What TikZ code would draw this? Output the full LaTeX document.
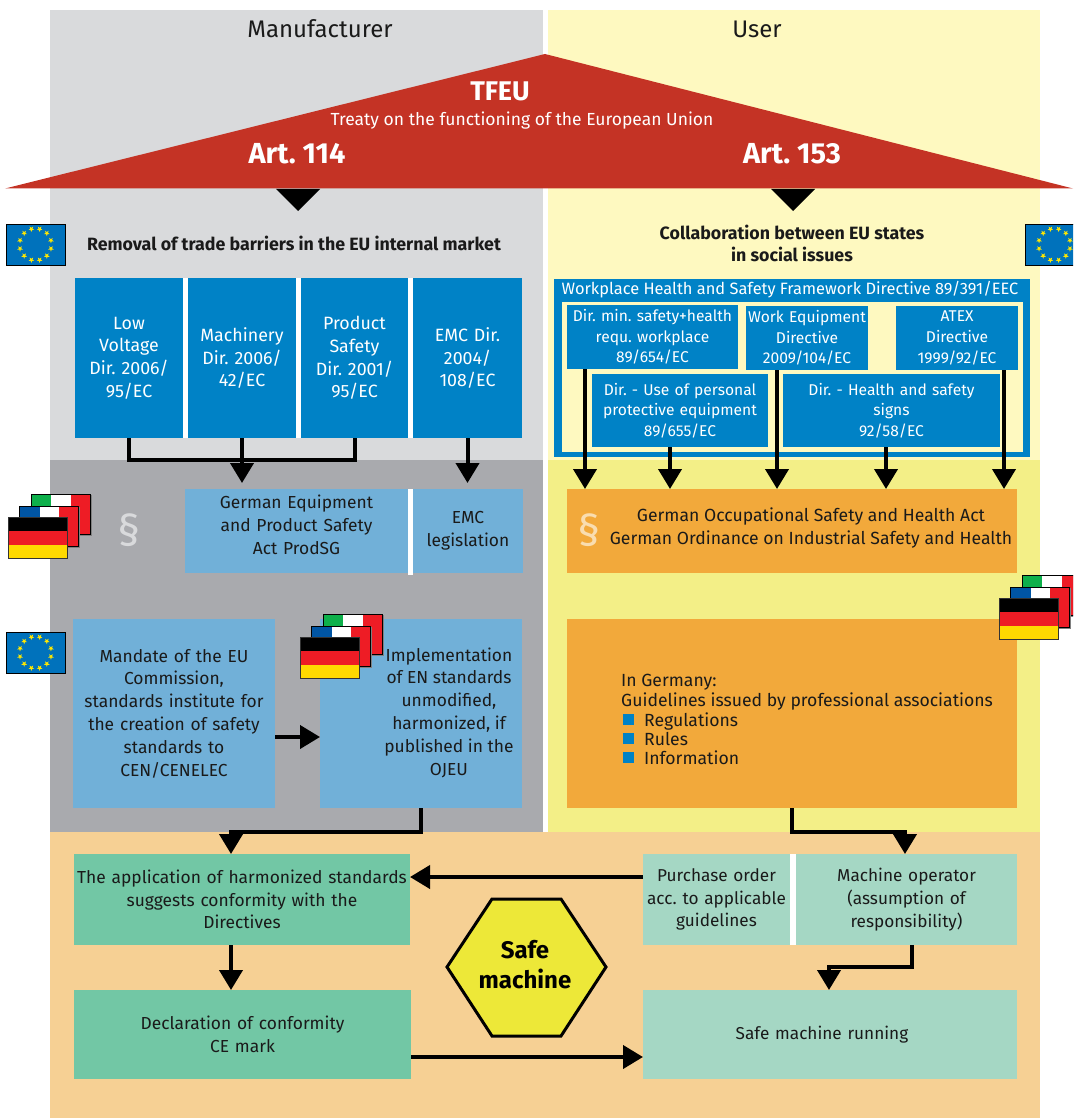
\documentclass[tikz,border=0pt]{standalone}
\usepackage{fontspec}
\setmainfont{Fira Sans}
\usetikzlibrary{arrows.meta,calc}
\definecolor{gl}{HTML}{D9DADC}\definecolor{gd}{HTML}{A9AAAE}
\definecolor{yl}{HTML}{FEF9C0}\definecolor{yd}{HTML}{F3EF87}
\definecolor{ob}{HTML}{F6D094}\definecolor{bl}{HTML}{0082C6}
\definecolor{lb}{HTML}{71B0D8}\definecolor{og}{HTML}{F2A93B}
\definecolor{rd}{HTML}{C43325}\definecolor{tl}{HTML}{72C7A5}
\definecolor{lt}{HTML}{A5D7C4}\definecolor{hx}{HTML}{EDE838}
\definecolor{tx}{HTML}{1A1A1A}\definecolor{fr}{HTML}{EE1C25}
\definecolor{fb}{HTML}{0055A4}\definecolor{fg}{HTML}{0DB04B}
\definecolor{fy}{HTML}{FFD900}\definecolor{eu}{HTML}{0072BC}
\definecolor{pl}{HTML}{F9DDB0}
\tikzset{
 x=1pt,y=-1pt,
 boxs/.style={inner sep=0pt,outer sep=0pt,align=center,text=tx,font=\fontsize{17.4}{22.8}\selectfont},
 bluebox/.style={boxs,fill=bl,text=white,font=\fontsize{17.8}{22.8}\selectfont},
 subbox/.style={boxs,fill=bl,text=white,font=\fontsize{15.6}{20.6}\selectfont},
 skybox/.style={boxs,fill=lb},
 orbox/.style={boxs,fill=og},
 tealbox/.style={boxs,fill=tl},
 mintbox/.style={boxs,fill=lt,font=\fontsize{17.2}{22.8}\selectfont},
 lbl/.style={inner sep=0pt,align=center,text=tx},
 wline/.style={line width=4pt,draw=black},
 arr/.style={line width=4pt,draw=black,-{Triangle[length=20pt,width=23pt]}},
 arrb/.style={arr,shorten >=6pt},
}
\newcommand{\bx}[7]{\node[#6,minimum width={(#4)-(#2)},minimum height={(#5)-(#3)},text width={(#4)-(#2)-2}] (#1) at ({((#2)+(#4))/2},{((#3)+(#5))/2}) {#7};}
% German / French / Italian flag group, #1,#2 = top left of the German flag
\newcommand{\flags}[2]{\begin{scope}[shift={(#1,#2)}]
 \fill[gray] (24,-22) rectangle ++(60,41);
 \fill[fg] (23,-23) rectangle ++(20,40);\fill[white] (43,-23) rectangle ++(20,40);\fill[fr] (63,-23) rectangle ++(19,40);
 \draw[black,line width=.8pt] (23,-23) rectangle ++(59,40);
 \fill[gray] (12,-10) rectangle ++(60,41);
 \fill[fb] (11.5,-11) rectangle ++(20,40);\fill[white] (31.5,-11) rectangle ++(19,40);\fill[fr] (50.5,-11) rectangle ++(20,40);
 \draw[black,line width=.8pt] (11.5,-11) rectangle ++(59,40);
 \fill[black] (0,0) rectangle ++(59,14);\fill[fr] (0,14) rectangle ++(59,14);\fill[fy] (0,28) rectangle ++(59,13);
 \draw[black!80,line width=.8pt] (0,0) rectangle ++(59,41);
\end{scope}}
\newcommand{\euflag}[2]{\begin{scope}[shift={(#1,#2)}]
 \fill[eu] (0,0) rectangle ++(59,41);
 \foreach \a in {15,45,...,345}{
  \fill[yellow!90!orange,shift={(29.5+16*cos \a,20.5+16*sin \a)}] (90:3) -- (126:1.2) -- (162:3) -- (198:1.2) -- (234:3) -- (270:1.2) -- (306:3) -- (342:1.2) -- (18:3) -- (54:1.2) -- cycle;}
 \draw[black,line width=1pt] (0,0) rectangle ++(59,41);
\end{scope}}
\begin{document}
\begin{tikzpicture}
\frenchspacing
\useasboundingbox (0,0) rectangle (1073,1118);
\clip (0,0) rectangle (1073,1118);
% panels
\fill[gl] (50,10) rectangle (543,460);
\fill[gd] (50,460) rectangle (543,832);
\fill[yl] (548,10) rectangle (1040,460);
\fill[yd] (548,460) rectangle (1040,832);
\fill[ob] (50,832) rectangle (1040,1118);
% roof
\fill[rd] (5,188.5) -- (545,54) -- (1073,188.5) -- cycle;
\fill[black] (276,189) -- (320,189) -- (298,211) -- cycle;
\fill[black] (771,189) -- (815,189) -- (793,211) -- cycle;
\node[lbl,font=\fontsize{24}{28}\selectfont] (man) at (320,29) {Manufacturer};
\node[lbl,font=\fontsize{24}{28}\selectfont] (usr) at (757,29) {User};
\node[lbl,text=white,font=\fontsize{27}{30}\selectfont\bfseries] (tfeu) at (500,91) {TFEU};
\node[lbl,text=white,font=\fontsize{17.5}{20}\selectfont] (treaty) at (522,121) {Treaty on the functioning of the European Union};
\node[lbl,text=white,font=\fontsize{29}{32}\selectfont\bfseries] (a114) at (297,154) {Art. 114};
\node[lbl,text=white,font=\fontsize{29}{32}\selectfont\bfseries] (a153) at (792,154) {Art. 153};
\node[lbl,font=\fontsize{17.8}{22}\selectfont\bfseries] (removal) at (294,243) {Removal of trade barriers in the EU internal market};
\node[lbl,font=\fontsize{17.8}{22}\selectfont\bfseries] (collab) at (792,243) {Collaboration between EU states\\in social issues};
% directive boxes
\fill[white] (75,278) rectangle (522,438);
\bx{lv}{75}{278}{183}{438}{bluebox}{Low\\Voltage\\Dir. 2006/\\95/EC}
\bx{mach}{188}{278}{296}{438}{bluebox}{Machinery\\Dir. 2006/\\42/EC}
\bx{prod}{301}{278}{408}{438}{bluebox}{Product\\Safety\\Dir. 2001/\\95/EC}
\bx{emc}{413}{278}{522}{438}{bluebox}{EMC Dir.\\2004/\\108/EC}
% framework
\fill[bl] (554,279) rectangle (1030,457);
\fill[yl] (562,302) rectangle (1023,452);
\node[lbl,text=white,font=\fontsize{16.4}{20}\selectfont] (frame) at (790,290) {Workplace Health and Safety Framework Directive 89/391/EEC};
\bx{da}{567}{305}{738}{369}{subbox}{Dir. min. safety+health\\requ. workplace\\89/654/EC}
\bx{db}{746}{306}{868}{370}{subbox}{Work Equipment\\Directive\\2009/104/EC}
\bx{dc}{896}{306}{1018}{370}{subbox}{ATEX\\Directive\\1999/92/EC}
\bx{dd}{592}{374}{768}{447}{subbox}{Dir. - Use of personal\\protective equipment\\89/655/EC}
\bx{de}{783}{374}{1000}{447}{subbox}{Dir. - Health and safety\\signs\\92/58/EC}
% law row
\fill[white] (408,489) rectangle (413,575);
\bx{gps}{185}{489}{408}{573}{skybox}{German Equipment\\and Product Safety\\Act ProdSG\\[-10pt]\mbox{}}
\bx{emcl}{413}{489}{523}{573}{skybox}{EMC\\legislation}
\node[lbl,text=gl,font=\fontsize{44}{44}\selectfont] (parl) at (129,530) {§};
\bx{act}{567}{489}{1017}{573}{orbox}{}
\node[lbl,text=pl,font=\fontsize{44}{44}\selectfont] (parr) at (589,530) {§};
\node[lbl,font=\fontsize{17.6}{23}\selectfont] (acttxt) at (811,528) {German Occupational Safety and Health Act\\German Ordinance on Industrial Safety and Health};
% standards row
\bx{mand}{73}{619}{275}{808}{skybox}{Mandate of the EU\\Commission,\\standards institute for\\the creation of safety\\standards to\\CEN/CENELEC}
\bx{impl}{320}{619}{522}{808}{skybox}{}
\node[lbl,font=\fontsize{17.4}{22.8}\selectfont] (impltx) at (449,712.5) {Implementation\\of EN standards\\unmodified,\\harmonized, if\\published in the\\OJEU};
\bx{guide}{567}{619}{1017}{808}{orbox}{}
\node[lbl,align=left,anchor=north west,font=\fontsize{17.6}{19.8}\selectfont] (gtx1) at (621,674) {In Germany:\\Guidelines issued by professional associations};
\node[lbl,align=left,anchor=north west,font=\fontsize{17.6}{19}\selectfont] (gtx2) at (644,713) {Regulations\\Rules\\Information};
\fill[bl] (623,714) rectangle ++(11,11);
\fill[bl] (623,733) rectangle ++(11,11);
\fill[bl] (623,752) rectangle ++(11,11);
% bottom
\bx{app}{74}{854}{410}{945}{tealbox}{The application of harmonized standards\\suggests conformity with the\\Directives}
\bx{decl}{74}{990}{411}{1079}{tealbox}{Declaration of conformity\\CE mark}
\fill[white] (643,854) rectangle (1017,945);
\bx{buy}{643}{854}{790}{945}{mintbox}{Purchase order\\acc. to applicable\\guidelines}
\bx{oper}{796}{854}{1017}{945}{mintbox}{Machine operator\\(assumption of\\responsibility)}
\bx{run}{643}{990}{1017}{1079}{mintbox}{Safe machine running\hspace*{16pt}}
\draw[black,line width=3pt,fill=hx,line join=miter] (447,967) -- (492,899) -- (561,899) -- (606,967) -- (561,1036) -- (492,1036) -- cycle;
\node[lbl,text=black,font=\fontsize{24}{30}\selectfont\bfseries] (safe) at (525,965) {Safe\\machine};
% connectors
\draw[wline] (lv.south) -- ++(0,22) -| (prod.south);
\draw[arrb] (mach.south) -- (mach.south |- gps.north);
\draw[arrb] (emc.south) -- (emc.south |- emcl.north);
\coordinate (xa) at (585,0);\coordinate (xd) at (670,0);\coordinate (xb) at (777,0);\coordinate (xe) at (886,0);\coordinate (xc) at (1004,0);
\draw[arr] (xa |- da.south) -- (xa |- act.north);
\draw[arr] (xd |- dd.south) -- (xd |- act.north);
\draw[arr] (xb |- db.south) -- (xb |- act.north);
\draw[arr] (xe |- de.south) -- (xe |- act.north);
\draw[arr] (xc |- dc.south) -- (xc |- act.north);
\coordinate (ma) at (0,737);\coordinate (mb) at (0,877);\coordinate (mc) at (0,1057);\coordinate (xi) at (421,0);\coordinate (xap) at (231,0);\coordinate (xop) at (905,0);\coordinate (xg) at (792,0);\coordinate (xo2) at (912,0);\coordinate (xr) at (829,0);
\draw[arr] (mand.east |- ma) -- (impl.west |- ma);
\draw[arr] (xi |- impl.south) |- ($(xap |- app.north)+(0,-22)$) -- (xap |- app.north);
\draw[arr] (xg |- guide.south) |- ($(xop |- oper.north)+(0,-22)$) -- (xop |- oper.north);
\draw[arr] (buy.west |- mb) -- (app.east |- mb);
\draw[arr] (xap |- app.south) -- (xap |- decl.north);
\draw[arr] (xo2 |- oper.south) |- ($(xr |- run.north)+(0,-23)$) -- (xr |- run.north);
\draw[arr] (decl.east |- mc) -- (run.west |- mc);
% flags
\euflag{6}{224}\euflag{1025}{224}\euflag{6}{632}
\flags{8}{517}\flags{300}{637}\flags{999}{598}
\end{tikzpicture}
\end{document}
